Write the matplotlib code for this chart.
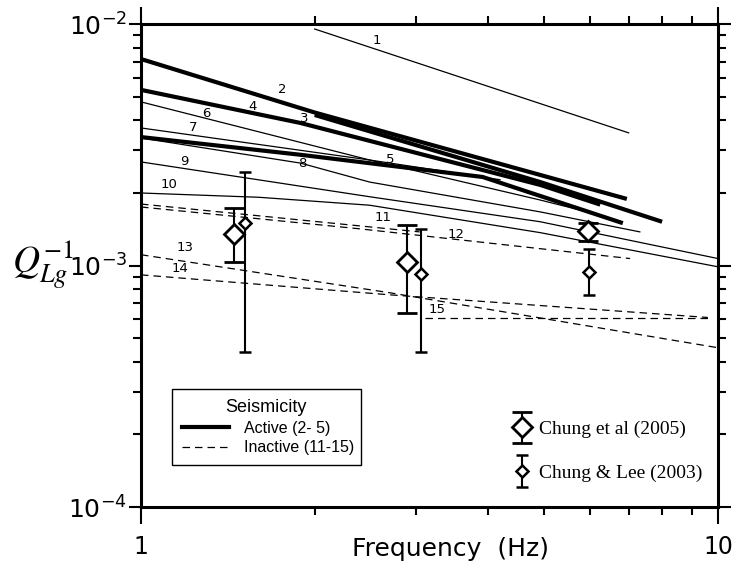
import matplotlib
matplotlib.use('Agg')
import matplotlib.pyplot as plt
from matplotlib.lines import Line2D
from matplotlib.container import ErrorbarContainer
from matplotlib.legend_handler import HandlerErrorbar
from matplotlib.ticker import FuncFormatter, NullFormatter, LogLocator

plt.rcParams['axes.unicode_minus'] = False

# Q_Lg^-1 curves (frequency in Hz, Q^-1)
# thin solid
f1 = [2.0, 7.0]
q1 = [0.00956, 0.00355]
f6 = [1.0, 2.49, 4.92, 6.25]
q6 = [0.00477, 0.00274, 0.00187, 0.00162]
f7 = [1.0, 2.49, 4.19]
q7 = [0.00372, 0.00274, 0.00227]
f8 = [1.0, 1.89, 2.49, 4.92, 7.32]
q8 = [0.00338, 0.00266, 0.00222, 0.00167, 0.00138]
f9 = [1.0, 2.49, 4.92, 10.0]
q9 = [0.00269, 0.00193, 0.00152, 0.00107]
f10 = [1.0, 1.6, 2.49, 4.92, 10.0]
q10 = [0.00200, 0.00192, 0.00178, 0.00137, 0.000989]
# thick solid (active)
f2 = [1.0, 2.0, 6.95]
q2 = [0.00718, 0.00431, 0.00189]
f3 = [2.0, 4.92, 8.0]
q3 = [0.00421, 0.00222, 0.00152]
f4 = [1.0, 1.89, 4.92, 6.25]
q4 = [0.00535, 0.00390, 0.00216, 0.00179]
f5 = [1.0, 1.89, 3.91, 6.84]
q5 = [0.00341, 0.00288, 0.00233, 0.00150]
# dashed (inactive)
f11 = [1.0, 3.04]
q11 = [0.00180, 0.00138]
f12 = [1.0, 2.40, 7.04]
q12 = [0.00175, 0.00142, 0.00107]
f13 = [1.0, 2.70, 10.0]
q13 = [0.00111, 0.000772, 0.000457]
f14 = [1.0, 2.70, 9.6]
q14 = [0.000916, 0.000757, 0.000610]
f15 = [3.1, 9.6]
q15 = [0.000605, 0.000605]

# measurements with error bars
c05_f = [1.45, 2.89, 5.95]
c05_q = [0.001355, 0.001037, 0.001393]
c05_lo = [0.001037, 0.000638, 0.001267]
c05_hi = [0.001735, 0.001476, 0.001504]
cl03_f = [1.515, 3.06, 5.97]
cl03_q = [0.001504, 0.000925, 0.000943]
cl03_lo = [0.000440, 0.000440, 0.000757]
cl03_hi = [0.002445, 0.001420, 0.001174]

# curve number labels
lab_txt = ['1', '2', '3', '4', '5', '6', '7', '8', '9', '10', '11', '12', '13', '14', '15']
lab_f = [2.56, 1.76, 1.92, 1.56, 2.70, 1.30, 1.23, 1.90, 1.19, 1.12, 2.63, 3.51, 1.19, 1.17, 3.26]
lab_q = [0.0086, 0.00535, 0.00409, 0.00455, 0.00274, 0.00429, 0.00372, 0.00266, 0.00269,
         0.00216, 0.00158, 0.00134, 0.00119, 0.00097, 0.000656]

fig = plt.figure(figsize=(7.32, 5.77), dpi=100)
ax = fig.add_axes([0.1926, 0.1213, 0.7883, 0.8366])

dash = (0, (6, 4))
for f, q in [(f1, q1), (f6, q6), (f7, q7), (f8, q8), (f9, q9), (f10, q10)]:
    ax.plot(f, q, color='k', lw=0.9)
for f, q in [(f2, q2), (f3, q3), (f4, q4), (f5, q5)]:
    ax.plot(f, q, color='k', lw=3.0, solid_capstyle='butt')
for f, q in [(f11, q11), (f12, q12), (f13, q13), (f14, q14), (f15, q15)]:
    ax.plot(f, q, color='k', lw=0.9, ls=dash)

eb1 = ax.errorbar(c05_f, c05_q,
                  yerr=[[q - l for q, l in zip(c05_q, c05_lo)], [h - q for q, h in zip(c05_q, c05_hi)]],
                  fmt='D', ms=10, mfc='white', mec='k', mew=2, ecolor='k', elinewidth=1.5,
                  capsize=7.5, capthick=1.5, zorder=5)
eb2 = ax.errorbar(cl03_f, cl03_q,
                  yerr=[[q - l for q, l in zip(cl03_q, cl03_lo)], [h - q for q, h in zip(cl03_q, cl03_hi)]],
                  fmt='D', ms=6.5, mfc='white', mec='k', mew=1.8, ecolor='k', elinewidth=1.5,
                  capsize=4.5, capthick=1.5, zorder=5)

for t, f, q in zip(lab_txt, lab_f, lab_q):
    ax.text(f, q, t, fontsize=9.5, ha='center', va='center')

ax.set_xscale('log')
ax.set_yscale('log')
ax.set_xlim(1, 10)
ax.set_ylim(1e-4, 1e-2)

ax.xaxis.set_major_formatter(FuncFormatter(lambda v, p: '%g' % v))
ax.xaxis.set_minor_formatter(NullFormatter())
ax.yaxis.set_minor_locator(LogLocator(base=10, subs=range(2, 10)))
ax.yaxis.set_minor_formatter(NullFormatter())
ax.tick_params(which='both', direction='out', top=True, right=True, width=1.5)
ax.tick_params(axis='x', which='major', length=12, labelsize=17, pad=8)
ax.tick_params(axis='y', which='major', length=9, labelsize=18, pad=1)
ax.tick_params(which='minor', length=6)
for s in ax.spines.values():
    s.set_linewidth(2.2)

fig.text(0.615, 0.049, 'Frequency  (Hz)', fontsize=18, ha='center', va='center')
fig.text(0.058, 0.54, r'$Q_{Lg}^{-1}$', fontsize=27, ha='center', va='center', math_fontfamily='stix')

leg1 = ax.legend([Line2D([], [], color='k', lw=3), Line2D([], [], color='k', lw=0.9, ls=dash)],
                 ['Active (2- 5)', 'Inactive (11-15)'], title='Seismicity',
                 loc='lower left', bbox_to_anchor=(0.0537, 0.087, 0.327, 0.16), mode='expand',
                 prop={'family': 'Liberation Sans', 'size': 11.5},
                 title_fontproperties={'family': 'Liberation Sans', 'size': 13},
                 fancybox=False, edgecolor='k', framealpha=1, handlelength=3.0,
                 handletextpad=0.9, borderaxespad=0, borderpad=0.6, labelspacing=0.3)
leg1.get_frame().set_linewidth(1.0)
ax.add_artist(leg1)

ax.legend([eb1, eb2], ['Chung et al (2005)', 'Chung & Lee (2003)'],
          handler_map={ErrorbarContainer: HandlerErrorbar(xerr_size=0.8)},
          loc='lower left', bbox_to_anchor=(0.643, 0.052), borderaxespad=0, borderpad=0,
          prop={'family': 'Liberation Serif', 'size': 14}, frameon=False, numpoints=1,
          handlelength=1.0, handletextpad=0.4, labelspacing=1.35)

fig.savefig('out.png', dpi=100)
